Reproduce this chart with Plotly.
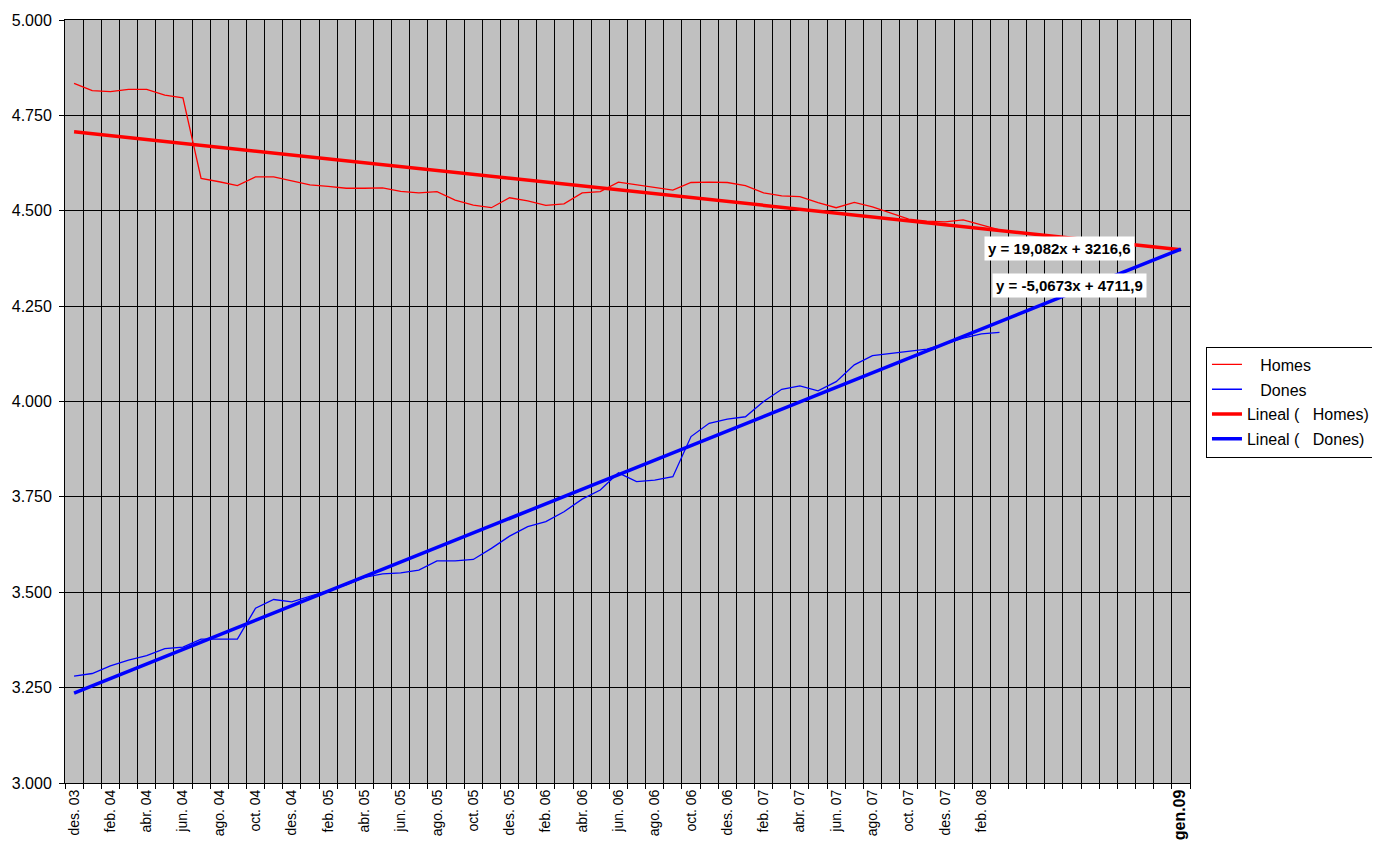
import plotly.graph_objects as go

# ---------------- data ----------------
n_categories = 62  # des. 03 ... gen. 09

homes = [4834, 4815, 4812, 4818, 4818, 4803, 4796, 4585, 4576, 4566,
         4589, 4589, 4578, 4568, 4564, 4559, 4559, 4560, 4551, 4547,
         4550, 4528, 4515, 4508, 4534, 4526, 4514, 4518, 4547, 4550,
         4575, 4568, 4561, 4554, 4574, 4575, 4574, 4566, 4547, 4539,
         4537, 4521, 4508, 4522, 4510, 4493, 4478, 4473, 4471, 4476,
         4463, 4450]

dones = [3280, 3287, 3307, 3322, 3334, 3352, 3356, 3377, 3377, 3377,
         3458, 3481, 3475, 3490, 3503, 3519, 3539, 3548, 3551, 3558,
         3582, 3582, 3586, 3615, 3647, 3672, 3685, 3711, 3744, 3768,
         3813, 3790, 3794, 3803, 3908, 3943, 3954, 3960, 4000, 4032,
         4041, 4028, 4052, 4096, 4120, 4126, 4132, 4137, 4151, 4166,
         4177, 4181]

# trend-line equations as printed on the chart (x = 1 .. 62)
homes_trend_slope, homes_trend_intercept = -5.0673, 4711.9
dones_trend_slope, dones_trend_intercept = 19.082, 3216.6

tick_positions = [0, 2, 4, 6, 8, 10, 12, 14, 16, 18, 20, 22, 24, 26, 28, 30,
                  32, 34, 36, 38, 40, 42, 44, 46, 48, 50, 61]
tick_labels = ["des. 03", "feb. 04", "abr. 04", "jun. 04", "ago. 04", "oct. 04",
               "des. 04", "feb. 05", "abr. 05", "jun. 05", "ago. 05", "oct. 05",
               "des. 05", "feb. 06", "abr. 06", "jun. 06", "ago. 06", "oct. 06",
               "des. 06", "feb. 07", "abr. 07", "jun. 07", "ago. 07", "oct. 07",
               "des. 07", "feb. 08", "gen.09"]

eq_homes_text = "y = -5,0673x + 4711,9"
eq_dones_text = "y = 19,082x + 3216,6"

# ---------------- figure ----------------
FONT = "Arial, Liberation Sans, sans-serif"
NB = "\u00a0"

x_data = list(range(len(homes)))
trend_x = [0, n_categories - 1]
homes_trend = [homes_trend_slope * (x + 1) + homes_trend_intercept for x in trend_x]
dones_trend = [dones_trend_slope * (x + 1) + dones_trend_intercept for x in trend_x]

fig = go.Figure()
fig.add_trace(go.Scatter(x=x_data, y=homes, mode="lines", name=NB * 3 + "Homes",
                         line=dict(color="#FF0000", width=1.3), legendgroup="a"))
fig.add_trace(go.Scatter(x=x_data, y=dones, mode="lines", name=NB * 3 + "Dones",
                         line=dict(color="#0000FF", width=1.3), legendgroup="b"))
fig.add_trace(go.Scatter(x=trend_x, y=homes_trend, mode="lines",
                         name="Lineal (" + NB * 3 + "Homes)",
                         line=dict(color="#FF0000", width=3.5), legendgroup="c"))
fig.add_trace(go.Scatter(x=trend_x, y=dones_trend, mode="lines",
                         name="Lineal (" + NB * 3 + "Dones)",
                         line=dict(color="#0000FF", width=3.5), legendgroup="d"))

ticktext = [t if t != "gen.09" else "<span style='font-size:16px'><b>gen.09</b></span>"
            for t in tick_labels]

fig.update_layout(
    width=1380, height=848,
    margin=dict(l=57, r=198, t=12, b=73),
    paper_bgcolor="white",
    plot_bgcolor="#C0C0C0",
    separators=",.",
    font=dict(family=FONT, color="black"),
    showlegend=True,
    legend=dict(x=1.0142, y=0.572, xanchor="left", yanchor="top",
                bgcolor="white", bordercolor="black", borderwidth=1,
                font=dict(size=16, family=FONT), traceorder="grouped",
                tracegroupgap=1),
    xaxis=dict(range=[-0.5, n_categories - 0.5], tickmode="array",
               tickvals=tick_positions, ticktext=ticktext, tickangle=-90,
               tickfont=dict(size=14, family=FONT), ticks="",
               showgrid=False, zeroline=False, automargin=False,
               showline=True, linecolor="black", linewidth=1, mirror=True,
               minor=dict(tickvals=[k - 0.5 for k in range(n_categories + 1)],
                          showgrid=True, gridcolor="black", gridwidth=1,
                          ticks="outside", ticklen=5, tickcolor="black")),
    yaxis=dict(range=[3000, 5000], tickmode="linear", tick0=3000, dtick=250,
               tickformat=",", showgrid=True, gridcolor="black", gridwidth=1,
               ticks="outside", ticklen=5, tickcolor="black",
               tickfont=dict(size=16, family=FONT), zeroline=False,
               ticklabelstandoff=4,
               automargin=False, showline=True, linecolor="black",
               linewidth=1, mirror=True),
    annotations=[
        dict(x=50.15, y=4400, xref="x", yref="y", text="<b>" + eq_dones_text + "</b>",
             showarrow=False, xanchor="left", yanchor="middle", bgcolor="white",
             borderpad=3, font=dict(size=15, family=FONT, color="black")),
        dict(x=50.6, y=4303, xref="x", yref="y", text="<b>" + eq_homes_text + "</b>",
             showarrow=False, xanchor="left", yanchor="middle", bgcolor="white",
             borderpad=3, font=dict(size=15, family=FONT, color="black")),
    ],
)

fig.write_html("out.html")
